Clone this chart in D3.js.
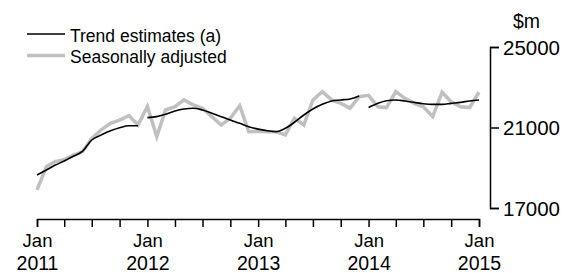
<!DOCTYPE html>
<html>
<head>
<meta charset="utf-8">
<script src="https://cdn.jsdelivr.net/npm/d3@7"></script>
<style>
  html, body { margin: 0; padding: 0; background: #fff; }
  svg { display: block; font-family: "Liberation Sans", Arial, sans-serif; }
</style>
</head>
<body>
<svg id="chart" width="564" height="273"></svg>
<script>
// Months from Jan 2011 to Jan 2015
const startMonth = "2011-01";
const monthCount = 49;

const seasonallyAdjusted = [
  17900, 19050, 19300, 19400, 19630, 19800, 20460, 20880, 21210, 21370, 21590, 21125,
  22050, 20545, 21870, 22030, 22370, 22120, 21960, 21540, 21125, 21460, 22080, 20790,
  20810, 20790, 20790, 20630, 21460, 21125, 22370, 22780, 22370, 22200, 21960, 22530,
  22600, 22030, 21990, 22780, 22450, 22200, 22030, 21540, 22750, 22280, 22030, 21990,
  22750
];

const trendEstimates = [
  18640, 18890, 19120, 19340, 19570, 19830, 20380, 20630, 20840, 20990, 21090, 21090,
  21490, 21540, 21660, 21820, 21920, 21960, 21870, 21710, 21540, 21370, 21210, 21040,
  20920, 20840, 20790, 20960, 21260, 21620, 21920, 22150, 22320, 22370, 22420, 22570,
  21990, 22200, 22330, 22370, 22320, 22250, 22180, 22150, 22150, 22200, 22250, 22320,
  22370
];
// trend line breaks: a new segment starts at these month indices
const trendSegmentStarts = [0, 12, 36];

const yTicks = [17000, 21000, 25000];
const yUnit = "$m";
const legendLabels = ["Trend estimates (a)", "Seasonally adjusted"];

const parse = d3.timeParse("%Y-%m");
const t0 = parse(startMonth);
const months = d3.range(monthCount).map(i => d3.timeMonth.offset(t0, i));

const svg = d3.select("#chart");

const x = d3.scaleTime()
  .domain([months[0], months[months.length - 1]])
  .range([37, 479]);
const y = d3.scaleLinear().domain([17000, 25000]).range([208, 47]);

// X axis
const xAxis = d3.axisBottom(x)
  .ticks(d3.timeMonth.every(3))
  .tickSize(8)
  .tickFormat(() => "");
const gx = svg.append("g").attr("transform", "translate(0,219)").call(xAxis);
gx.selectAll("path, line").attr("stroke", "#000").attr("stroke-width", 1.5);
gx.selectAll(".tick").each(function(d) {
  if (d.getMonth() === 0) {
    const t = d3.select(this).select("text")
      .attr("y", 0).attr("dy", null)
      .attr("fill", "#000")
      .style("font-size", "18.5px")
      .attr("text-anchor", "middle");
    t.append("tspan").attr("x", 0).attr("y", 28).text(d3.timeFormat("%b")(d));
    t.append("tspan").attr("x", 0).attr("y", 51).style("font-size", "19.5px").text(d3.timeFormat("%Y")(d));
  }
});

// Y axis (right)
const yAxis = d3.axisRight(y)
  .tickValues(yTicks)
  .tickSize(9)
  .tickPadding(4)
  .tickFormat(d3.format("d"));
const gy = svg.append("g").attr("transform", "translate(490,0)").call(yAxis);
gy.selectAll("path, line").attr("stroke", "#000").attr("stroke-width", 1.5);
gy.selectAll("text").attr("fill", "#000").style("font-size", "20.5px").attr("dy", "0.36em");

svg.append("text")
  .attr("x", 513).attr("y", 28)
  .style("font-size", "19.5px")
  .attr("fill", "#000")
  .text(yUnit);

// Seasonally adjusted line
const saData = months.map((m, i) => ({ m, v: seasonallyAdjusted[i] }));
svg.append("path")
  .datum(saData)
  .attr("fill", "none")
  .attr("stroke", "#c0c0c0")
  .attr("stroke-width", 3.5)
  .attr("stroke-linejoin", "miter")
  .attr("d", d3.line().x(d => x(d.m)).y(d => y(d.v)));

// Trend line segments
const trendLine = d3.line().x(d => x(d.m)).y(d => y(d.v)).curve(d3.curveMonotoneX);
trendSegmentStarts.forEach((s, k) => {
  const e = k + 1 < trendSegmentStarts.length ? trendSegmentStarts[k + 1] : monthCount;
  const seg = d3.range(s, e).map(i => ({ m: months[i], v: trendEstimates[i] }));
  svg.append("path")
    .datum(seg)
    .attr("fill", "none")
    .attr("stroke", "#000")
    .attr("stroke-width", 1.6)
    .attr("d", trendLine);
});

// Legend
const legend = svg.append("g");
const legendStyles = [
  { color: "#000", width: 1.6 },
  { color: "#c0c0c0", width: 3.5 }
];
legendLabels.forEach((lab, i) => {
  const ly = 34 + i * 21.5;
  legend.append("line")
    .attr("x1", 27).attr("x2", 65)
    .attr("y1", ly).attr("y2", ly)
    .attr("stroke", legendStyles[i].color)
    .attr("stroke-width", legendStyles[i].width);
  legend.append("text")
    .attr("x", 70).attr("y", ly + 7.5)
    .style("font-size", "17.5px")
    .attr("fill", "#000")
    .text(lab);
});
</script>
</body>
</html>
